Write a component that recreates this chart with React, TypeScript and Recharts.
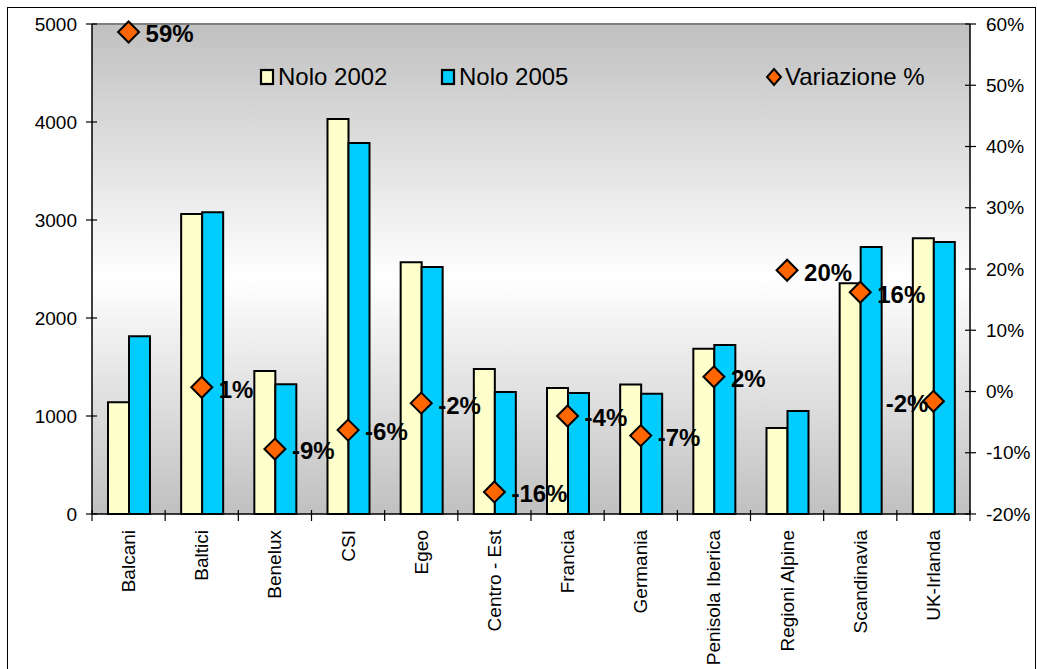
import React from "react";
import {
  ComposedChart,
  Bar,
  Line,
  XAxis,
  YAxis,
  Legend,
  CartesianGrid,
  ReferenceLine,
  LabelList,
} from "recharts";

// regioni e noli (2002 vs 2005), variazione percentuale sull'asse destro
const regioni = [
  "Balcani",
  "Baltici",
  "Benelux",
  "CSI",
  "Egeo",
  "Centro - Est",
  "Francia",
  "Germania",
  "Penisola Iberica",
  "Regioni Alpine",
  "Scandinavia",
  "UK-Irlanda",
];
const nolo2002 = [1140, 3060, 1460, 4030, 2570, 1480, 1285, 1322, 1685, 878, 2355, 2815];
const nolo2005 = [1815, 3080, 1325, 3785, 2520, 1245, 1235, 1228, 1725, 1050, 2725, 2775];
const variazione = [58.7, 0.7, -9.4, -6.3, -1.9, -16.4, -4.0, -7.2, 2.4, 19.8, 16.2, -1.6];

const ticksNolo = [0, 1000, 2000, 3000, 4000, 5000];
const ticksVariazione = [-20, -10, 0, 10, 20, 30, 40, 50, 60];

const W = 1037;
const H = 669;
const LEFT_W = 92;
const RIGHT_W = 67;
const BOTTOM_H = 155;
const BAND = (W - LEFT_W - RIGHT_W) / regioni.length;
const FONT = "'Liberation Sans', Arial, sans-serif";

const GIALLO = "#FFFFCC";
const AZZURRO = "#00CCFF";
const ARANCIO = "#FF6600";

const data = regioni.map((regione, i) => ({
  regione,
  n2002: nolo2002[i],
  n2005: nolo2005[i],
  variazione: variazione[i],
}));

function RegioneTick(props: any) {
  const { x, y, payload, index } = props;
  const half = BAND / 2;
  const last = index === regioni.length - 1;
  return (
    <g>
      <line x1={x - half} x2={x - half} y1={y - 4} y2={y + 7} stroke="#000" strokeWidth={1.2} />
      {last && <line x1={x + half} x2={x + half} y1={y - 4} y2={y + 7} stroke="#000" strokeWidth={1.2} />}
      <text
        x={x}
        y={y + 16}
        transform={`rotate(-90, ${x}, ${y + 16})`}
        textAnchor="end"
        dominantBaseline="central"
        fontSize={19}
        fontFamily={FONT}
        fill="#000"
      >
        {payload.value}
      </text>
    </g>
  );
}

function NoloTick(props: any) {
  const { x, y, payload } = props;
  return (
    <g>
      <line x1={x - 6} x2={x + 5} y1={y} y2={y} stroke="#000" strokeWidth={1.2} />
      <text x={x - 15} y={y} dy="0.35em" textAnchor="end" fontSize={19} fontFamily={FONT} fill="#000">
        {payload.value}
      </text>
    </g>
  );
}

function VariazioneTick(props: any) {
  const { x, y, payload } = props;
  return (
    <g>
      <line x1={x - 5} x2={x + 6} y1={y} y2={y} stroke="#000" strokeWidth={1.2} />
      <text x={x + 16} y={y} dy="0.35em" textAnchor="start" fontSize={19} fontFamily={FONT} fill="#000">
        {payload.value}%
      </text>
    </g>
  );
}

function Rombo(props: any) {
  const { cx, cy } = props;
  if (cx == null || cy == null) return null;
  const r = 10.5;
  return (
    <polygon
      points={`${cx},${cy - r} ${cx + r},${cy} ${cx},${cy + r} ${cx - r},${cy}`}
      fill={ARANCIO}
      stroke="#000"
      strokeWidth={2}
    />
  );
}

function EtichettaVariazione(props: any) {
  const { x, y, value, index } = props;
  // l'ultima etichetta sta a sinistra del punto
  const aSinistra = index === regioni.length - 1;
  return (
    <text
      x={aSinistra ? x - 5 : x + 17}
      y={y + 2}
      dy="0.35em"
      textAnchor={aSinistra ? "end" : "start"}
      fontSize={24}
      fontWeight="bold"
      fontFamily={FONT}
      fill="#000"
    >
      {Math.round(value)}%
    </text>
  );
}

function Legenda() {
  const voci = [
    { nome: "Nolo 2002", tipo: "box", colore: GIALLO, left: 258 },
    { nome: "Nolo 2005", tipo: "box", colore: AZZURRO, left: 439 },
    { nome: "Variazione %", tipo: "rombo", colore: ARANCIO, left: 765 },
  ];
  return (
    <div style={{ position: "relative", height: 30, fontFamily: FONT, fontSize: 24 }}>
      {voci.map((v) => (
        <div
          key={v.nome}
          style={{ position: "absolute", left: v.left, top: 0, display: "flex", alignItems: "center", height: 30 }}
        >
          <svg width={18} height={20} style={{ marginRight: 2 }}>
            {v.tipo === "box" ? (
              <rect x={3} y={3} width={12} height={14} fill={v.colore} stroke="#000" strokeWidth={2.2} />
            ) : (
              <polygon points="9,2 16,10 9,18 2,10" fill={v.colore} stroke="#000" strokeWidth={2} />
            )}
          </svg>
          <span style={{ color: "#000" }}>{v.nome}</span>
        </div>
      ))}
    </div>
  );
}

export default function App() {
  return (
    <div
      style={{
        position: "absolute",
        left: 0,
        top: 0,
        width: W,
        height: H,
        overflow: "hidden",
        background: "#fff",
      }}
    >
      <div
        style={{
          position: "absolute",
          left: 7,
          top: 7,
          width: 1029,
          height: 720,
          border: "1.5px solid #000",
          boxSizing: "border-box",
        }}
      />
      <ComposedChart
        width={W}
        height={H}
        data={data}
        margin={{ top: 24, right: 0, bottom: 0, left: 0 }}
        barGap={0}
        style={{ position: "absolute", left: 0, top: 0 }}
      >
        <defs>
          <linearGradient id="sfondo" x1="0" y1="0" x2="0" y2="1">
            <stop offset="0%" stopColor="#c0c0c0" />
            <stop offset="52%" stopColor="#ffffff" />
            <stop offset="100%" stopColor="#c0c0c0" />
          </linearGradient>
        </defs>
        <CartesianGrid fill="url(#sfondo)" horizontal={false} vertical={false} stroke="none" />
        <XAxis
          dataKey="regione"
          interval={0}
          height={BOTTOM_H}
          tickSize={0}
          tickMargin={0}
          tickLine={false}
          axisLine={{ stroke: "#000", strokeWidth: 1.5 }}
          tick={<RegioneTick />}
        />
        <YAxis
          domain={[0, 5000]}
          ticks={ticksNolo}
          width={LEFT_W}
          tickSize={0}
          tickMargin={0}
          tickLine={false}
          axisLine={{ stroke: "#000", strokeWidth: 1.5 }}
          tick={<NoloTick />}
        />
        <YAxis
          yAxisId="var"
          orientation="right"
          domain={[-20, 60]}
          ticks={ticksVariazione}
          width={RIGHT_W}
          tickSize={0}
          tickMargin={0}
          tickLine={false}
          axisLine={{ stroke: "#000", strokeWidth: 1.5 }}
          tick={<VariazioneTick />}
        />
        <ReferenceLine y={5000} stroke="#808080" strokeWidth={2} />
        <Legend
          layout="horizontal"
          verticalAlign="middle"
          align="center"
          wrapperStyle={{ position: "absolute", top: 62, left: 0, width: W }}
          content={() => <Legenda />}
        />
        <Bar dataKey="n2002" name="Nolo 2002" barSize={21} fill={GIALLO} stroke="#000" strokeWidth={2} isAnimationActive={false} />
        <Bar dataKey="n2005" name="Nolo 2005" barSize={21} fill={AZZURRO} stroke="#000" strokeWidth={2} isAnimationActive={false} />
        <Line
          yAxisId="var"
          dataKey="variazione"
          name="Variazione %"
          stroke="none"
          dot={<Rombo />}
          activeDot={false}
          isAnimationActive={false}
        >
          <LabelList dataKey="variazione" content={<EtichettaVariazione />} />
        </Line>
      </ComposedChart>
    </div>
  );
}
